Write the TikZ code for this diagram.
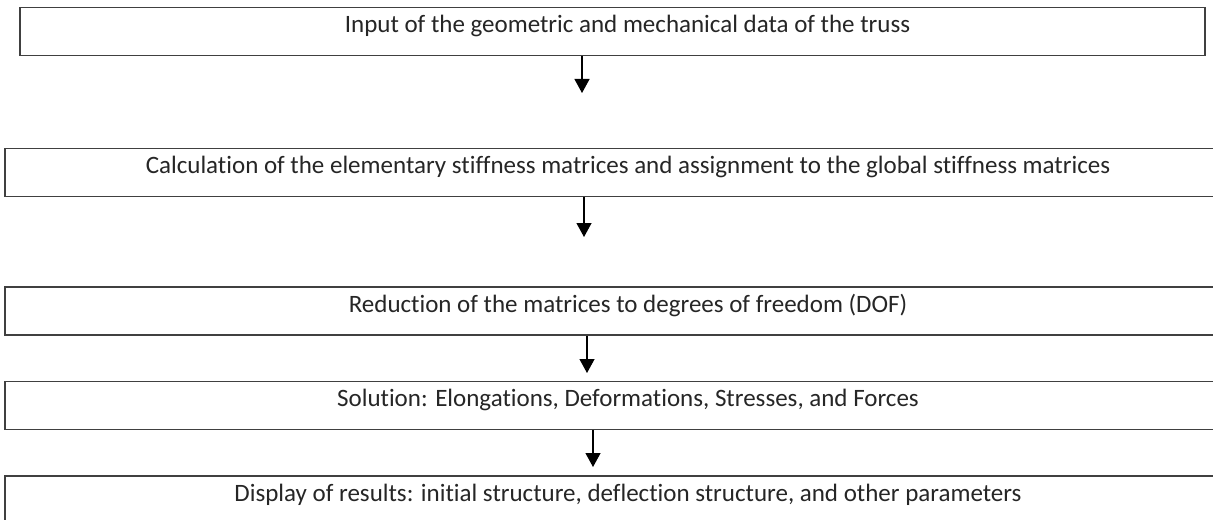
\documentclass[tikz,border=0pt]{standalone}
\usepackage{fontspec}
\setmainfont{Carlito}[Ligatures=NoCommon]
\usetikzlibrary{arrows.meta,positioning}
\definecolor{BoxLine}{HTML}{404040}
\definecolor{BoxText}{HTML}{262626}
\tikzset{
  flow/.style={-{Triangle[width=7.5pt,length=7pt]}, line width=0.6pt, draw=black},
  stage/.style={draw=BoxLine, line width=0.8pt, fill=white, text=BoxText,
                inner xsep=0pt, inner ysep=4.5pt, text height=8pt, text depth=7pt,
                font=\fontsize{12.5}{15}\selectfont},
}

\begin{document}
\begin{tikzpicture}[x=0.5pt,y=-0.5pt]
    \path[use as bounding box,clip] (0,0) rectangle (1213,519);
    \node[stage,minimum width=592.5pt] (in) at (612.5,31.5) {\hspace*{15pt}Input of the geometric and mechanical data of the truss};
    \node[stage,minimum width=623pt] (calc) at (628,172.5) {Calculation of the elementary stiffness matrices and assignment to the global stiffness matrices};
    \node[stage,minimum width=623pt] (red) at (628,311) {Reduction of the matrices to degrees of freedom (DOF)};
    \node[stage,minimum width=623pt] (sol) at (628,405.5) {Solution: Elongations, Deformations, Stresses, and Forces};
    \node[stage,minimum width=623pt] (disp) at (628,500) {Display of results: initial structure, deflection structure, and other parameters};
    % arrow tips stop short of the next box
    \coordinate (a1) at (582,93);
    \coordinate (a2) at (584,237);
    \coordinate (a3) at (587,373);
    \coordinate (a4) at (593,467);
    \draw[flow] (in.south -| a1) -- (a1);
    \draw[flow] (calc.south -| a2) -- (a2);
    \draw[flow] (red.south -| a3) -- (a3);
    \draw[flow] (sol.south -| a4) -- (a4);
\end{tikzpicture}
\end{document}
